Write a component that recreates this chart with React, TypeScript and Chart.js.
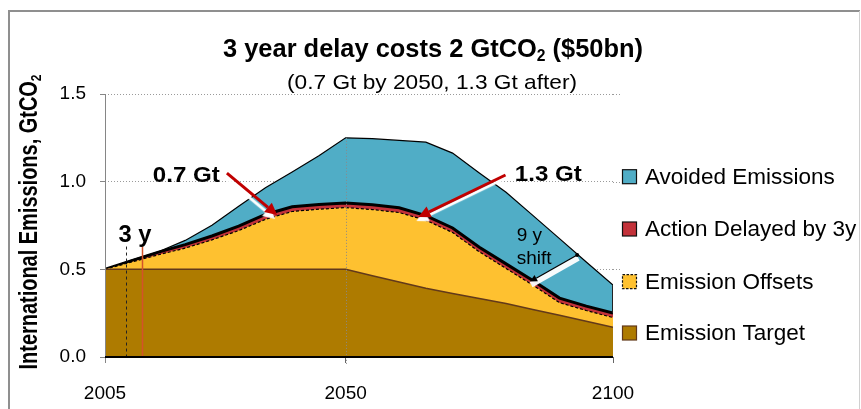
import React, { useEffect, useRef } from "react";
import { Chart, registerables } from "chart.js";

Chart.register(...registerables);

// ---------------- data ----------------
const years = [2005, 2010, 2015, 2020, 2025, 2030, 2035, 2040, 2045, 2050, 2055, 2060, 2065, 2070, 2075, 2080, 2085, 2090, 2095, 2100];
const avoided = [0.5, 0.553, 0.6, 0.665, 0.752, 0.86, 0.965, 1.055, 1.148, 1.25, 1.245, 1.235, 1.225, 1.163, 1.05, 0.94, 0.808, 0.675, 0.542, 0.41];
const delayed = [0.5, 0.55, 0.598, 0.641, 0.69, 0.746, 0.813, 0.857, 0.87, 0.879, 0.868, 0.851, 0.806, 0.736, 0.626, 0.531, 0.436, 0.336, 0.29, 0.25];
const offsets = [0.5, 0.542, 0.583, 0.621, 0.668, 0.721, 0.785, 0.83, 0.843, 0.852, 0.841, 0.824, 0.78, 0.71, 0.6, 0.505, 0.41, 0.31, 0.265, 0.225];
const target = [0.5, 0.5, 0.5, 0.5, 0.5, 0.5, 0.5, 0.5, 0.5, 0.5, 0.464, 0.428, 0.392, 0.362, 0.334, 0.305, 0.271, 0.238, 0.204, 0.17];

const seriesNames = ["Avoided Emissions", "Action Delayed by 3y", "Emission Offsets", "Emission Target"];
const xTicks = [2005, 2050, 2100];
const yTicks = [0, 0.5, 1.0, 1.5];

// annotation anchors (data units)
const delayMarkerYears = [2009, 2012];
const delayMarkerTop = 0.63;
const label07 = { text: "0.7 Gt", x: 2020.2, y: 1.032 };
const label13 = { text: "1.3 Gt", x: 2087.9, y: 1.038 };
const label3y = { text: "3 y", x: 2010.6, y: 0.69 };
const labelShift = ["9 y", "shift"];
const labelShiftAt = { x: 2082.0, y1: 0.69, y2: 0.56 };
const arrow07 = { x1: 2027.8, y1: 1.049, x2: 2037.2, y2: 0.81 };
const arrow13 = { x1: 2079.9, y1: 1.038, x2: 2063.6, y2: 0.798 };
const arrowShift = { x1: 2093.3, y1: 0.582, x2: 2084.5, y2: 0.43 };

const titleMain = "3 year delay costs 2 GtCO";
const titleSub = "2";
const titleEnd = " ($50bn)";
const subtitle = "(0.7 Gt by 2050, 1.3 Gt after)";
const yTitleMain = "International Emissions, GtCO";
const yTitleSub = "2";

const COLORS = {
  avoided: "#50ADC6",
  delayed: "#C3323A",
  offsets: "#FEC130",
  target: "#AE7B00",
  targetLine: "#62391A",
};

const FONT = "'Liberation Sans', Arial, sans-serif";

type Seg = { text: string; font: string; dy?: number };

function drawSegs(
  ctx: CanvasRenderingContext2D,
  segs: Seg[],
  x: number,
  y: number,
  targetW: number | null,
  align: "center" | "left",
  rotate = false,
  baseline: CanvasTextBaseline = "alphabetic"
) {
  ctx.save();
  ctx.translate(x, y);
  if (rotate) ctx.rotate(-Math.PI / 2);
  let W = 0;
  const widths = segs.map((s) => {
    ctx.font = s.font;
    const w = ctx.measureText(s.text).width;
    W += w;
    return w;
  });
  const sx = targetW ? targetW / W : 1;
  ctx.scale(sx, 1);
  let cx = align === "center" ? -W / 2 : 0;
  ctx.textAlign = "left";
  ctx.textBaseline = baseline;
  ctx.fillStyle = "#000";
  segs.forEach((s, i) => {
    ctx.font = s.font;
    ctx.fillText(s.text, cx, s.dy || 0);
    cx += widths[i];
  });
  ctx.restore();
}

function drawArrow(
  ctx: CanvasRenderingContext2D,
  x1: number, y1: number, x2: number, y2: number,
  color: string, width: number, headLen: number, headW: number
) {
  const ang = Math.atan2(y2 - y1, x2 - x1);
  const bx = x2 - Math.cos(ang) * headLen;
  const by = y2 - Math.sin(ang) * headLen;
  ctx.strokeStyle = color;
  ctx.fillStyle = color;
  ctx.lineWidth = width;
  ctx.lineCap = "butt";
  ctx.beginPath();
  ctx.moveTo(x1, y1);
  ctx.lineTo(bx, by);
  ctx.stroke();
  ctx.beginPath();
  ctx.moveTo(x2, y2);
  ctx.lineTo(bx + Math.sin(ang) * headW, by - Math.cos(ang) * headW);
  ctx.lineTo(bx - Math.sin(ang) * headW, by + Math.cos(ang) * headW);
  ctx.closePath();
  ctx.fill();
}

const decorPlugin = {
  id: "decor",
  beforeDraw(chart: any) {
    const ctx = chart.ctx as CanvasRenderingContext2D;
    ctx.save();
    ctx.fillStyle = "#fff";
    ctx.fillRect(0, 0, chart.width, chart.height);
    // outer frame
    ctx.strokeStyle = "#8f8f8f";
    ctx.lineWidth = 2;
    ctx.beginPath();
    ctx.moveTo(9, 409);
    ctx.lineTo(9, 11);
    ctx.lineTo(860, 11);
    ctx.stroke();
    ctx.strokeStyle = "#d0d0d0";
    ctx.lineWidth = 1;
    ctx.beginPath();
    ctx.moveTo(859.5, 11);
    ctx.lineTo(859.5, 409);
    ctx.stroke();
    ctx.restore();
  },
  afterDatasetsDraw(chart: any) {
    const ctx = chart.ctx as CanvasRenderingContext2D;
    const xs = chart.scales.x;
    const ys = chart.scales.y;
    const px = (v: number) => xs.getPixelForValue(v);
    const py = (v: number) => ys.getPixelForValue(v);
    const area = chart.chartArea;
    ctx.save();

    // gridline stubs to the right of the plot
    ctx.strokeStyle = "#999";
    ctx.lineWidth = 1;
    ctx.setLineDash([1, 2]);
    yTicks.forEach((t) => {
      if (t === 0) return;
      const y = Math.round(py(t)) + 0.5;
      ctx.beginPath();
      ctx.moveTo(area.right, y);
      ctx.lineTo(area.right + 9, y);
      ctx.stroke();
    });

    // 2050 dotted drop line
    const i2050 = years.indexOf(2050);
    const x50 = Math.round(px(2050)) + 0.5;
    ctx.strokeStyle = "#8a8a8a";
    ctx.beginPath();
    ctx.moveTo(x50, py(avoided[i2050]));
    ctx.lineTo(x50, py(0) + 8);
    ctx.stroke();
    ctx.setLineDash([]);

    // right edge of avoided area
    const last = years.length - 1;
    ctx.strokeStyle = "#222";
    ctx.lineWidth = 1;
    ctx.beginPath();
    ctx.moveTo(px(years[last]) - 0.5, py(avoided[last]));
    ctx.lineTo(px(years[last]) - 0.5, py(delayed[last]));
    ctx.stroke();

    // 3 y markers
    ctx.lineWidth = 1;
    ctx.strokeStyle = "#222";
    ctx.setLineDash([3, 3]);
    ctx.beginPath();
    ctx.moveTo(Math.round(px(delayMarkerYears[0])) + 0.5, py(delayMarkerTop));
    ctx.lineTo(Math.round(px(delayMarkerYears[0])) + 0.5, py(0));
    ctx.stroke();
    ctx.setLineDash([]);
    ctx.strokeStyle = "#D4522A";
    ctx.lineWidth = 1.5;
    ctx.beginPath();
    ctx.moveTo(Math.round(px(delayMarkerYears[1])) + 0.5, py(delayMarkerTop));
    ctx.lineTo(Math.round(px(delayMarkerYears[1])) + 0.5, py(0));
    ctx.stroke();

    // axes
    ctx.strokeStyle = "#868686";
    ctx.lineWidth = 1;
    ctx.beginPath();
    ctx.moveTo(area.left + 0.5, py(1.5));
    ctx.lineTo(area.left + 0.5, py(0) + 6);
    ctx.stroke();
    ctx.strokeStyle = "#000";
    ctx.lineWidth = 2;
    ctx.beginPath();
    ctx.moveTo(area.left, py(0));
    ctx.lineTo(area.right, py(0));
    ctx.stroke();

    // red arrows with white shadow
    ctx.save();
    ctx.shadowColor = "rgba(255,255,255,1)";
    ctx.shadowOffsetX = -2;
    ctx.shadowOffsetY = 4;
    ctx.shadowBlur = 1;
    drawArrow(ctx, px(arrow07.x1), py(arrow07.y1), px(arrow07.x2), py(arrow07.y2), "#C00000", 3, 12, 6);
    drawArrow(ctx, px(arrow13.x1), py(arrow13.y1), px(arrow13.x2), py(arrow13.y2), "#C00000", 3, 12, 6);
    ctx.restore();

    // 9 y shift arrow
    const sx1 = px(arrowShift.x1), sy1 = py(arrowShift.y1), sx2 = px(arrowShift.x2), sy2 = py(arrowShift.y2);
    ctx.strokeStyle = "rgba(255,255,255,0.95)";
    ctx.lineWidth = 6;
    ctx.beginPath();
    ctx.moveTo(sx1 + 1, sy1 + 3);
    ctx.lineTo(sx2 + 1, sy2 + 3);
    ctx.stroke();
    drawArrow(ctx, sx1, sy1, sx2, sy2, "#000", 1.2, 7, 3.5);
    ctx.fillStyle = "#000";
    ctx.beginPath();
    ctx.arc(sx1, sy1, 2, 0, Math.PI * 2);
    ctx.fill();

    // labels
    drawSegs(ctx, [{ text: label07.text, font: `bold 22px ${FONT}` }], px(label07.x), py(label07.y), 67, "center", false, "middle");
    drawSegs(ctx, [{ text: label13.text, font: `bold 22px ${FONT}` }], px(label13.x), py(label13.y), 67, "center", false, "middle");
    drawSegs(ctx, [{ text: label3y.text, font: `bold 23px ${FONT}` }], px(label3y.x), py(label3y.y), 33, "center", false, "middle");
    drawSegs(ctx, [{ text: labelShift[0], font: `19px ${FONT}` }], px(labelShiftAt.x), py(labelShiftAt.y1), null, "left", false, "middle");
    drawSegs(ctx, [{ text: labelShift[1], font: `19px ${FONT}` }], px(labelShiftAt.x), py(labelShiftAt.y2), null, "left", false, "middle");
    ctx.restore();
  },
  afterDraw(chart: any) {
    const ctx = chart.ctx as CanvasRenderingContext2D;
    ctx.save();
    // title
    drawSegs(
      ctx,
      [
        { text: titleMain, font: `bold 26px ${FONT}` },
        { text: titleSub, font: `bold 16px ${FONT}`, dy: 4 },
        { text: titleEnd, font: `bold 26px ${FONT}` },
      ],
      433, 56.5, 420, "center"
    );
    drawSegs(ctx, [{ text: subtitle, font: `21px ${FONT}` }], 432, 88.5, 290, "center");
    // y title
    drawSegs(
      ctx,
      [
        { text: yTitleMain, font: `bold 25px ${FONT}` },
        { text: yTitleSub, font: `bold 15px ${FONT}`, dy: 4 },
      ],
      37, 222, 295, "center", true
    );
    // legend
    const ds = chart.data.datasets;
    const legendY = [176.7, 229, 281.7, 333];
    const order = [3, 2, 1, 0];
    order.forEach((di, k) => {
      const d = ds[di];
      const y = legendY[k];
      ctx.fillStyle = d.backgroundColor;
      ctx.fillRect(622.5, y - 7, 14, 14);
      ctx.strokeStyle = di === 0 ? COLORS.targetLine : "#111";
      ctx.lineWidth = 1.2;
      ctx.setLineDash(di === 1 ? [2.5, 1.5] : []);
      ctx.strokeRect(622.5, y - 7, 14, 14);
      ctx.setLineDash([]);
      drawSegs(ctx, [{ text: d.label, font: `22.5px ${FONT}` }], 645, y + 1, null, "left", false, "middle");
    });
    ctx.restore();
  },
};

export default function App() {
  const ref = useRef<HTMLCanvasElement>(null);
  useEffect(() => {
    if (!ref.current) return;
    const pts = (arr: number[]) => years.map((yr, i) => ({ x: yr, y: arr[i] }));
    const chart = new Chart(ref.current, {
      type: "line",
      data: {
        datasets: [
          {
            label: seriesNames[3],
            data: pts(target),
            backgroundColor: COLORS.target,
            borderColor: COLORS.targetLine,
            borderWidth: 1.5,
            fill: "origin",
            pointRadius: 0,
            tension: 0,
          },
          {
            label: seriesNames[2],
            data: pts(offsets),
            backgroundColor: COLORS.offsets,
            borderColor: "#000",
            borderWidth: 1.2,
            borderDash: [3, 2],
            fill: "origin",
            pointRadius: 0,
            tension: 0,
          },
          {
            label: seriesNames[1],
            data: pts(delayed),
            backgroundColor: COLORS.delayed,
            borderColor: "#000",
            borderWidth: 3,
            fill: "origin",
            pointRadius: 0,
            tension: 0,
          },
          {
            label: seriesNames[0],
            data: pts(avoided),
            backgroundColor: COLORS.avoided,
            borderColor: "#000",
            borderWidth: 1.2,
            fill: "origin",
            pointRadius: 0,
            tension: 0,
          },
        ],
      },
      options: {
        responsive: false,
        maintainAspectRatio: false,
        devicePixelRatio: 1,
        animation: false,
        events: [],
        layout: { padding: { top: 94, right: 248, bottom: 0, left: 0 } },
        plugins: {
          legend: { display: false },
          title: { display: false },
          tooltip: { enabled: false },
        },
        scales: {
          x: {
            type: "linear",
            min: 2005,
            max: 2100,
            afterFit: (s: any) => {
              s.height = 52;
            },
            afterBuildTicks: (s: any) => {
              s.ticks = xTicks.map((v) => ({ value: v }));
            },
            grid: { display: true, drawOnChartArea: false, drawTicks: true, tickLength: 6, tickColor: "#666", lineWidth: 1 },
            border: { display: false },
            ticks: {
              autoSkip: false,
              maxRotation: 0,
              padding: 19,
              color: "#000",
              font: { family: FONT, size: 19 },
              callback: (v: any) => String(v),
            },
          },
          y: {
            min: 0,
            max: 1.5,
            afterFit: (s: any) => {
              s.width = 105;
            },
            afterBuildTicks: (s: any) => {
              s.ticks = yTicks.map((v) => ({ value: v }));
            },
            grid: { color: "#9a9a9a", lineWidth: 1, drawTicks: true, tickLength: 5, tickColor: "#868686" },
            border: { display: false, dash: [1, 2] },
            ticks: {
              padding: 14,
              color: "#000",
              font: { family: FONT, size: 19 },
              callback: (v: any) => Number(v).toFixed(1),
            },
          },
        },
      },
      plugins: [decorPlugin],
    } as any);
    return () => chart.destroy();
  }, []);
  return (
    <div style={{ position: "absolute", left: 0, top: 0, width: 861, height: 409, background: "#fff" }}>
      <canvas ref={ref} width={861} height={409} style={{ display: "block", width: 861, height: 409 }} />
    </div>
  );
}
